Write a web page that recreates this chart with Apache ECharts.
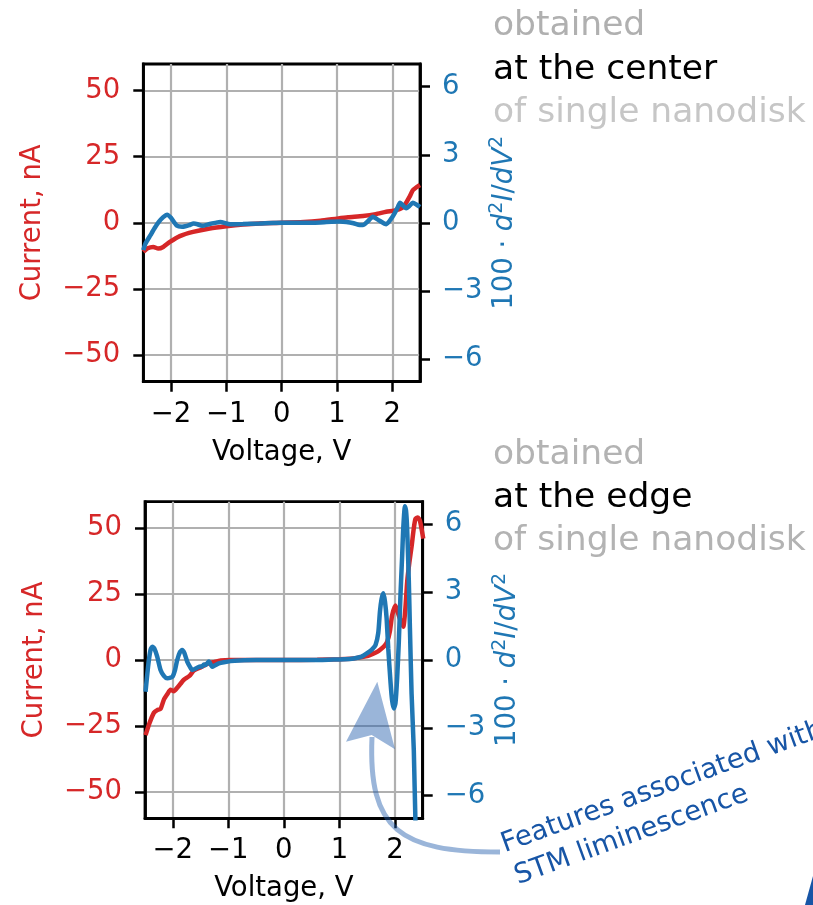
<!DOCTYPE html>
<html>
<head>
<meta charset="utf-8">
<script src="https://cdn.jsdelivr.net/npm/echarts@6/dist/echarts.min.js"></script>
<style>
html,body{margin:0;padding:0;background:#fff;}
#chart{width:813px;height:905px;}
</style>
</head>
<body>
<div id="chart"></div>
<script>
// ---- data ----
const xTicks = [-2, -1, 0, 1, 2];
const currentTicks = [-50, -25, 0, 25, 50];
const d2Ticks = [-6, -3, 0, 3, 6];

// top panel: at the center
const centerCurV = [-2.5,-2.42,-2.32,-2.23,-2.14,-2.02,-1.84,-1.6,-1.3,-1.0,-0.7,-0.4,0,0.4,0.7,1.0,1.2,1.47,1.7,1.89,2.07,2.2,2.31,2.37,2.44,2.5];
const centerCurI = [-11,-9.6,-9.1,-9.7,-9.1,-7.2,-5,-3.4,-2.1,-1.25,-0.6,-0.2,0,0.3,0.8,1.6,2.1,2.6,3.3,4.2,4.8,6,9.8,12.3,13.5,14.3];
const centerD2V = [-2.5,-2.46,-2.37,-2.3,-2.22,-2.14,-2.07,-2.0,-1.89,-1.8,-1.74,-1.67,-1.59,-1.52,-1.44,-1.3,-1.2,-1.11,-0.93,-0.7,-0.4,0,0.4,0.7,0.9,1.05,1.17,1.3,1.41,1.47,1.55,1.65,1.75,1.89,1.97,2.04,2.1,2.14,2.2,2.25,2.31,2.37,2.44,2.5];
const centerD2 = [-1.2,-0.91,-0.54,-0.25,0.04,0.25,0.36,0.22,-0.13,-0.17,-0.15,-0.1,-0.03,-0.06,-0.13,-0.05,0.0,0.04,-0.06,-0.05,-0.03,0,0,0.02,0.05,0.06,0.04,-0.02,-0.1,-0.1,0.05,0.27,0.12,-0.06,0.15,0.42,0.7,0.89,0.75,0.64,0.75,0.89,0.8,0.7];

// bottom panel: at the edge
const edgeCurV = [-2.49,-2.42,-2.34,-2.28,-2.22,-2.16,-2.1,-2.04,-1.98,-1.92,-1.86,-1.8,-1.7,-1.62,-1.5,-1.38,-1.26,-1.14,-0.96,-0.6,0,0.6,1.0,1.2,1.32,1.5,1.62,1.68,1.75,1.81,1.86,1.91,1.95,2.01,2.06,2.1,2.15,2.19,2.22,2.26,2.3,2.34,2.37,2.41,2.45,2.51];
const edgeCurI = [-28.5,-24,-20,-19,-18.5,-15,-13,-11.3,-11.8,-10.5,-9,-7.5,-6,-4,-2.8,-1.5,-0.8,-0.2,0,0,0,0.1,0.3,0.5,0.8,1.5,2.5,3.1,4.2,5.3,6.9,11,17,20.7,17.5,15,12.6,20,29.5,37,43,50,53.5,54,52.8,46];
const edgeD2V = [-2.49,-2.44,-2.4,-2.37,-2.33,-2.28,-2.22,-2.16,-2.1,-2.04,-2.0,-1.96,-1.92,-1.87,-1.83,-1.79,-1.74,-1.69,-1.65,-1.59,-1.53,-1.47,-1.44,-1.41,-1.35,-1.29,-1.23,-1.17,-1.08,-0.96,-0.8,-0.5,0,0.5,0.9,1.1,1.26,1.4,1.5,1.58,1.65,1.7,1.73,1.76,1.79,1.82,1.85,1.88,1.92,1.95,1.98,2.01,2.04,2.07,2.1,2.13,2.15,2.18,2.2,2.22,2.25,2.27,2.3,2.34,2.37,2.42,2.5];
const edgeD2 = [-1.4,-0.2,0.45,0.59,0.5,0.15,-0.44,-0.7,-0.81,-0.78,-0.72,-0.45,0,0.35,0.44,0.3,-0.07,-0.3,-0.44,-0.38,-0.3,-0.28,-0.2,-0.22,-0.07,-0.3,-0.22,-0.15,-0.1,-0.05,-0.02,0,0,0,0.02,0.03,0.07,0.15,0.3,0.45,0.66,1.2,2.14,2.7,2.95,2.6,1.85,0.5,-0.96,-1.8,-2.14,-1.9,-0.8,0.8,2.88,4.6,5.83,6.8,6.6,5.8,3.5,1.4,-1.5,-4,-7.2,-10,-12];

const labelsCenter = ['obtained', 'at the center', 'of single nanodisk'];
const labelsEdge = ['obtained', 'at the edge', 'of single nanodisk'];
const noteLines = ['Features associated with', 'STM liminescence'];

// ---- styling ----
const RED = '#d62728', BLUE = '#1f77b4';
const FONT = '"DejaVu Sans", sans-serif';
const FS = 27.5;
const fmt = v => String(v).replace('-', '\u2212');
const pairs = (xs, ys) => xs.map((x, i) => [x, ys[i]]);

const grids = [
  {left: 143.3, top: 64, width: 276.7, height: 317.7},
  {left: 145, top: 501.7, width: 277.7, height: 316.6}
];

function xAxis(gi) {
  return {
    type: 'value', gridIndex: gi, min: -2.5, max: 2.5,
    name: 'Voltage, V', nameLocation: 'middle', nameGap: 57,
    nameTextStyle: {color: '#000', fontSize: FS, fontFamily: FONT},
    axisLine: {show: true, onZero: false, lineStyle: {color: '#000', width: 2.8}},
    axisTick: {show: true, customValues: xTicks, length: 10, lineStyle: {color: '#000', width: 2.5}},
    axisLabel: {customValues: xTicks, formatter: fmt, color: '#000', fontSize: FS, fontFamily: FONT, margin: 19},
    splitLine: {show: true, lineStyle: {color: '#b0b0b0', width: 2.2}}
  };
}
function yLeft(gi) {
  return {
    type: 'value', gridIndex: gi, position: 'left', min: -60, max: 60,
    name: 'Current, nA', nameLocation: 'middle', nameGap: 96, nameRotate: 90,
    nameTextStyle: {color: RED, fontSize: FS, fontFamily: FONT},
    axisLine: {show: true, onZero: false, lineStyle: {color: '#000', width: 2.8}},
    axisTick: {show: true, customValues: currentTicks, length: 10, lineStyle: {color: '#000', width: 2.5}},
    axisLabel: {customValues: currentTicks, formatter: fmt, color: RED, fontSize: FS, fontFamily: FONT, margin: 23},
    splitLine: {show: true, lineStyle: {color: '#b0b0b0', width: 2.2}}
  };
}
function yRight(gi) {
  return {
    type: 'value', gridIndex: gi, position: 'right', min: -7, max: 7,
    name: '{n|100 · }{i|d}{s|2}{i|I}{n|/}{i|dV}{s|2}',
    nameLocation: 'middle', nameGap: 68, nameRotate: 90,
    nameTextStyle: {
      color: BLUE, fontSize: FS, fontFamily: FONT,
      rich: {
        n: {color: BLUE, fontSize: FS, fontFamily: FONT, lineHeight: 34},
        i: {color: BLUE, fontSize: FS, fontFamily: FONT, fontStyle: 'italic', lineHeight: 34},
        s: {color: BLUE, fontSize: 19, fontFamily: FONT, verticalAlign: 'top', lineHeight: 34, padding: [0, 0, 12, 0]}
      }
    },
    axisLine: {show: true, onZero: false, lineStyle: {color: '#000', width: 2.8}},
    axisTick: {show: true, customValues: d2Ticks, length: 10, lineStyle: {color: '#000', width: 2.5}},
    axisLabel: {customValues: d2Ticks, formatter: fmt, color: BLUE, fontSize: FS, fontFamily: FONT, margin: 22},
    splitLine: {show: false}
  };
}
function line(data, color, xi, yi) {
  return {
    type: 'line', xAxisIndex: xi, yAxisIndex: yi, data: data,
    showSymbol: false, smooth: 0.2, clip: true, animation: false,
    lineStyle: {color: color, width: 4.5}, itemStyle: {color: color}, z: 3
  };
}

function textBlock(lines, colors, y0) {
  return lines.map((t, i) => ({
    type: 'text', x: 493, y: y0 + i * 43.3, z: 10,
    style: {text: t, fill: colors[i], font: '34.5px ' + FONT, textAlign: 'left', textVerticalAlign: 'middle', align: 'left', verticalAlign: 'middle'}
  }));
}

const ANGLE = 20 * Math.PI / 180;
const NOTE = '#1755a6';
const ARROW = 'rgba(31,90,170,0.45)';

const chart = echarts.init(document.getElementById('chart'), null, {renderer: 'canvas'});
chart.setOption({
  animation: false,
  backgroundColor: '#fff',
  grid: grids.map(g => Object.assign({show: true, borderColor: '#000', borderWidth: 2.8, backgroundColor: 'transparent', containLabel: false}, g)),
  xAxis: [xAxis(0), xAxis(1)],
  yAxis: [yLeft(0), yRight(0), yLeft(1), yRight(1)],
  series: [
    line(pairs(centerCurV, centerCurI), RED, 0, 0),
    line(pairs(centerD2V, centerD2), BLUE, 0, 1),
    line(pairs(edgeCurV, edgeCurI), RED, 1, 2),
    line(pairs(edgeD2V, edgeD2), BLUE, 1, 3)
  ],
  graphic: [].concat(
    textBlock(labelsCenter, ['#b0b0b0', '#000000', '#c6c6c6'], 26.5),
    textBlock(labelsEdge, ['#b3b3b3', '#000000', '#b3b3b3'], 454.8),
    [
      {type: 'bezierCurve', z: 20, shape: {x1: 500, y1: 852, cpx1: 400, cpy1: 852, cpx2: 368, cpy2: 830, x2: 372, y2: 737},
       style: {stroke: ARROW, lineWidth: 5, fill: null}},
      {type: 'polygon', z: 20, shape: {points: [[377.3, 681.7], [395, 749.3], [371.7, 735], [346, 741.7]]},
       style: {fill: ARROW, stroke: null}},
      {type: 'text', x: 502.3, y: 845.5, rotation: ANGLE, z: 21,
       style: {text: noteLines[0], fill: NOTE, font: '27.5px ' + FONT, textAlign: 'left', textVerticalAlign: 'middle', align: 'left', verticalAlign: 'middle'}},
      {type: 'text', x: 515.6, y: 877.5, rotation: ANGLE, z: 21,
       style: {text: noteLines[1], fill: NOTE, font: '27.5px ' + FONT, textAlign: 'left', textVerticalAlign: 'middle', align: 'left', verticalAlign: 'middle'}},
      {type: 'polygon', z: 21, shape: {points: [[813, 876], [805, 905], [813, 905]]}, style: {fill: NOTE}}
    ]
  )
});
</script>
</body>
</html>
